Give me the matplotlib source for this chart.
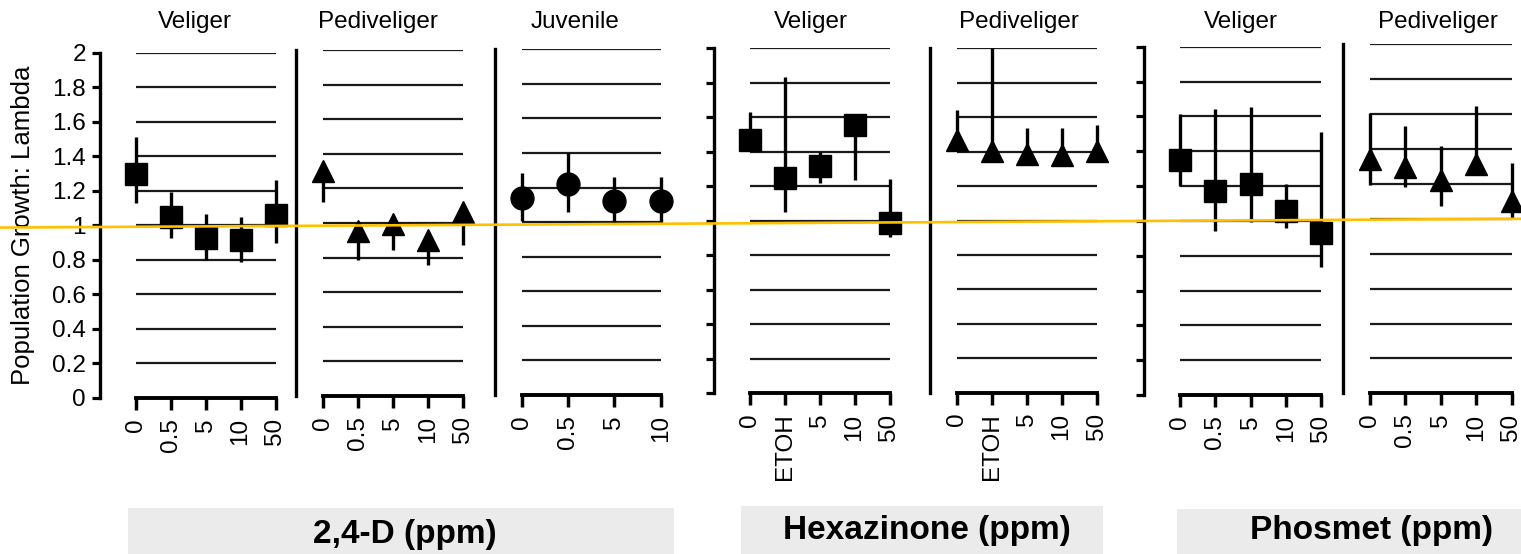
import matplotlib
matplotlib.use("Agg")
import matplotlib.pyplot as plt
from matplotlib import font_manager
from matplotlib.lines import Line2D
from matplotlib.patches import Rectangle

plt.rcParams["font.family"] = ["Liberation Sans", "DejaVu Sans"]

# ---- data: population growth (lambda), mean with lower / upper error ends ----
Y_TICKS = [0, 0.2, 0.4, 0.6, 0.8, 1.0, 1.2, 1.4, 1.6, 1.8, 2.0]
REF_LAMBDA = 1.0

D24_VEL_X = ["0", "0.5", "5", "10", "50"]
D24_VEL_MEAN = [1.30, 1.05, 0.925, 0.915, 1.06]
D24_VEL_LO = [1.13, 0.925, 0.80, 0.79, 0.896]
D24_VEL_HI = [1.51, 1.195, 1.063, 1.046, 1.262]

D24_PED_X = ["0", "0.5", "5", "10", "50"]
D24_PED_MEAN = [1.30, 0.955, 0.994, 0.902, 1.061]
D24_PED_LO = [1.123, 0.786, 0.844, 0.757, 0.873]
D24_PED_HI = [1.30, 0.955, 0.994, 0.902, 1.061]

D24_JUV_X = ["0", "0.5", "5", "10"]
D24_JUV_MEAN = [1.138, 1.219, 1.122, 1.122]
D24_JUV_LO = [1.007, 1.06, 0.997, 0.997]
D24_JUV_HI = [1.286, 1.402, 1.263, 1.263]

HEX_VEL_X = ["0", "ETOH", "5", "10", "50"]
HEX_VEL_MEAN = [1.468, 1.246, 1.316, 1.557, 0.987]
HEX_VEL_LO = [1.468, 1.049, 1.217, 1.237, 0.904]
HEX_VEL_HI = [1.633, 1.835, 1.40, 1.557, 1.242]

HEX_PED_X = ["0", "ETOH", "5", "10", "50"]
HEX_PED_MEAN = [1.467, 1.404, 1.386, 1.383, 1.404]
HEX_PED_LO = [1.467, 1.404, 1.386, 1.383, 1.404]
HEX_PED_HI = [1.642, 2.0, 1.535, 1.539, 1.555]

PHO_VEL_X = ["0", "0.5", "5", "10", "50"]
PHO_VEL_MEAN = [1.348, 1.170, 1.213, 1.059, 0.933]
PHO_VEL_LO = [1.202, 0.942, 0.995, 0.957, 0.737]
PHO_VEL_HI = [1.614, 1.641, 1.652, 1.212, 1.512]

PHO_PED_X = ["0", "0.5", "5", "10", "50"]
PHO_PED_MEAN = [1.342, 1.298, 1.225, 1.313, 1.103]
PHO_PED_LO = [1.194, 1.184, 1.071, 1.313, 1.003]
PHO_PED_HI = [1.605, 1.532, 1.417, 1.646, 1.318]

STAGES = ["Veliger", "Pediveliger", "Juvenile", "Veliger", "Pediveliger",
          "Veliger", "Pediveliger"]
GROUPS = ["2,4-D (ppm)", "Hexazinone (ppm)", "Phosmet (ppm)"]

PANELS = [
    (D24_VEL_X, D24_VEL_MEAN, D24_VEL_LO, D24_VEL_HI, "s"),
    (D24_PED_X, D24_PED_MEAN, D24_PED_LO, D24_PED_HI, "^"),
    (D24_JUV_X, D24_JUV_MEAN, D24_JUV_LO, D24_JUV_HI, "o"),
    (HEX_VEL_X, HEX_VEL_MEAN, HEX_VEL_LO, HEX_VEL_HI, "s"),
    (HEX_PED_X, HEX_PED_MEAN, HEX_PED_LO, HEX_PED_HI, "^"),
    (PHO_VEL_X, PHO_VEL_MEAN, PHO_VEL_LO, PHO_VEL_HI, "s"),
    (PHO_PED_X, PHO_PED_MEAN, PHO_PED_LO, PHO_PED_HI, "^"),
]

# ---- layout (pixels on a 1521 x 554 canvas) ----
W, H = 1521, 554
# left, right, y of lambda=0, y of lambda=2
FRAMES = [
    (136, 275.5, 398, 52.7),
    (323, 463, 396, 50),
    (521.7, 660.7, 395, 49.3),
    (750, 889.5, 393.3, 48.3),
    (956.7, 1096.5, 392.7, 48.3),
    (1180, 1321, 395, 46.7),
    (1370, 1511.5, 393.3, 44.3),
]
HAS_YAXIS = [True, False, False, True, False, True, False]
TITLE_X = [195, 378, 575, 811, 1019, 1241, 1438]
# group boxes: left, right, top; text centre x, y
GROUP_BOXES = [
    (128, 674, 508, 405, 535),
    (741, 1103, 506, 927, 531),
    (1177, 1521, 509, 1371, 530),
]

fig = plt.figure(figsize=(W / 100, H / 100), dpi=100)

axes = []
for i, (xl, mean, lo, hi, marker) in enumerate(PANELS):
    left, right, y0, y2 = FRAMES[i]
    ax = fig.add_axes([left / W, (H - y0) / H, (right - left) / W, (y0 - y2) / H])
    axes.append(ax)
    xs = list(range(len(xl)))
    yerr = [[m - l for m, l in zip(mean, lo)], [h - m for m, h in zip(mean, hi)]]
    cont = ax.errorbar(xs, mean, yerr=yerr, fmt=marker, ms=16.5,
                       color="black", ecolor="black", elinewidth=2.4, capsize=0,
                       zorder=3)
    for art in cont.get_children():
        art.set_clip_on(False)

    ax.set_xlim(0, len(xl) - 1)
    ax.set_ylim(0, 2)
    ax.set_xticks(xs)
    ax.set_xticklabels(xl)
    ax.set_yticks(Y_TICKS)
    ax.set_yticklabels([f"{t:g}" for t in Y_TICKS])
    ax.yaxis.grid(True, color="#1a1a1a", linewidth=1.6)
    ax.xaxis.grid(False)
    ax.set_axisbelow(True)

    for side in ("top", "right"):
        ax.spines[side].set_visible(False)
    ax.spines["bottom"].set_linewidth(2.8)
    ax.spines["left"].set_linewidth(2.4)
    ax.patch.set_visible(False)

    ax.tick_params(axis="x", direction="out", length=8.5, width=2.5, pad=6,
                   labelsize=17.5, labelrotation=90)
    if HAS_YAXIS[i]:
        ax.spines["left"].set_position(("outward", 26))
        ax.tick_params(axis="y", direction="out", length=6, width=2.3, pad=4,
                       labelsize=17.5, labelleft=(i == 0))
    else:
        ax.spines["left"].set_position(("outward", 19.5))
        ax.tick_params(axis="y", left=False, labelleft=False)

    fig.text(TITLE_X[i] / W, 1 - 22 / H, STAGES[i], ha="center", va="center",
             fontsize=17.5)

fig.text(23 / W, 1 - 225 / H, "Population Growth: Lambda", rotation=90,
         ha="center", va="center", fontsize=18.5)

# group labels on grey bands
names = {f.name for f in font_manager.fontManager.ttflist}
if "Liberation Sans Narrow" in names:
    grp_font = dict(family=["Liberation Sans Narrow", "DejaVu Sans"], fontsize=29)
else:
    grp_font = dict(family=["Liberation Sans", "DejaVu Sans"], fontsize=24)
for (bl, br, bt, tx, ty), name in zip(GROUP_BOXES, GROUPS):
    fig.patches.append(Rectangle((bl / W, 0), (br - bl) / W, (H - bt) / H,
                                 transform=fig.transFigure, facecolor="#ebebeb",
                                 edgecolor="none", zorder=0))
    fig.text(tx / W, 1 - ty / H, name, ha="center", va="center",
             fontweight="bold", **grp_font)

# lambda = 1 reference line running across all panels
fig.canvas.draw()
inv = fig.transFigure.inverted()
_, y_start = inv.transform(axes[0].transData.transform((0, REF_LAMBDA)))
_, y_end = inv.transform(axes[-1].transData.transform((0, REF_LAMBDA)))
fig.lines.append(Line2D([0, 1], [y_start - 0.004, y_end], transform=fig.transFigure,
                        color="#ffc000", linewidth=1.9, zorder=10))

fig.savefig("out.png", dpi=100)
